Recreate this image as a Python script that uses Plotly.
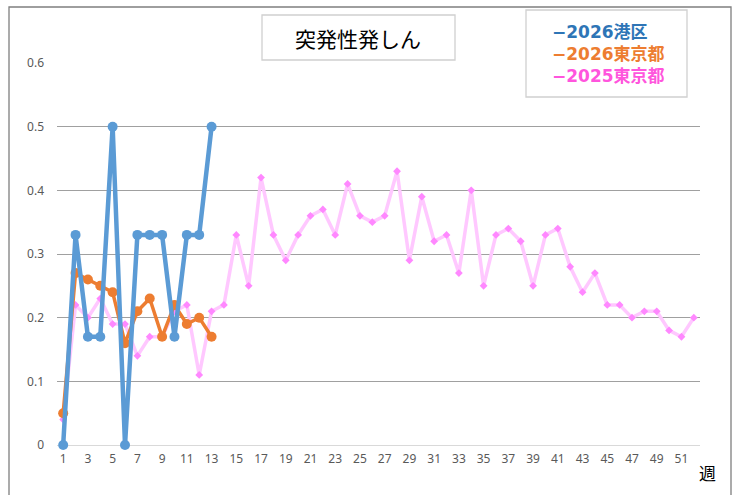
import plotly.graph_objects as go

weeks = list(range(1, 53))
minato_2026 = [0, 0.33, 0.17, 0.17, 0.5, 0, 0.33, 0.33, 0.33, 0.17, 0.33, 0.33, 0.5]
tokyo_2026 = [0.05, 0.27, 0.26, 0.25, 0.24, 0.16, 0.21, 0.23, 0.17, 0.22, 0.19, 0.20, 0.17]
tokyo_2025 = [0.04, 0.22, 0.20, 0.23, 0.19, 0.19, 0.14, 0.17, 0.17, 0.21,
              0.22, 0.11, 0.21, 0.22, 0.33, 0.25, 0.42, 0.33, 0.29, 0.33,
              0.36, 0.37, 0.33, 0.41, 0.36, 0.35, 0.36, 0.43, 0.29, 0.39,
              0.32, 0.33, 0.27, 0.40, 0.25, 0.33, 0.34, 0.32, 0.25, 0.33,
              0.34, 0.28, 0.24, 0.27, 0.22, 0.22, 0.20, 0.21, 0.21, 0.18,
              0.17, 0.20]
xticks = list(range(1, 52, 2))
title_text = "突発性発しん"
legend_names = ["−2026港区", "−2026東京都", "−2025東京都"]
legend_colors = ["#2e75b6", "#ed7d31", "#ff55dd"]

fig = go.Figure()
fig.add_trace(go.Scatter(x=weeks, y=tokyo_2025, mode="lines+markers",
                         line=dict(color="#ffc8ff", width=3.5),
                         marker=dict(symbol="diamond", size=6, color="#ff88ff"),
                         name=legend_names[2], showlegend=False))
fig.add_trace(go.Scatter(x=weeks[:len(tokyo_2026)], y=tokyo_2026, mode="lines+markers",
                         line=dict(color="#ed7d31", width=3.5),
                         marker=dict(symbol="circle", size=10, color="#ed7d31"),
                         name=legend_names[1], showlegend=False))
fig.add_trace(go.Scatter(x=weeks[:len(minato_2026)], y=minato_2026, mode="lines+markers",
                         line=dict(color="#5b9bd5", width=4.5),
                         marker=dict(symbol="circle", size=10, color="#5b9bd5"),
                         name=legend_names[0], showlegend=False))

W, H = 742, 495
L, R, T, B = 57, 700, 63, 445

def px(x):
    return (x - L) / (R - L)

def py(y):
    return (B - y) / (B - T)

shapes = [
    dict(type="rect", xref="paper", yref="paper", x0=px(9), x1=px(731), y0=py(520), y1=py(7),
         line=dict(color="#7f7f7f", width=1.3), fillcolor="rgba(0,0,0,0)", layer="below"),
    dict(type="rect", xref="paper", yref="paper", x0=px(262), x1=px(455), y0=py(60), y1=py(15),
         line=dict(color="#d0d0d0", width=1.3), fillcolor="white", layer="above"),
    dict(type="rect", xref="paper", yref="paper", x0=px(526), x1=px(687), y0=py(97), y1=py(10),
         line=dict(color="#d0d0d0", width=1.3), fillcolor="white", layer="above"),
]

legend_html = "<br>".join(
    "<span style='color:%s'>%s</span>" % (c, n) for n, c in zip(legend_names, legend_colors)
)

annotations = [
    dict(text=title_text, xref="paper", yref="paper", x=px(358), y=py(38),
         xanchor="center", yanchor="middle", showarrow=False,
         font=dict(family="Noto Sans CJK JP", size=21, color="#000000")),
    dict(text="週", xref="paper", yref="paper", x=px(707), y=py(472),
         xanchor="center", yanchor="middle", showarrow=False,
         font=dict(family="Noto Sans CJK JP", size=17, color="#000000")),
    dict(text=legend_html, xref="paper", yref="paper", x=px(550), y=py(54),
         xanchor="left", yanchor="middle", align="left", showarrow=False,
         font=dict(family="DejaVu Sans, Noto Sans CJK JP", size=17, color="#2e75b6",
                   weight="bold")),
]

fig.update_layout(
    width=W, height=H,
    margin=dict(l=L, r=W - R, t=T, b=H - B, pad=0, autoexpand=False),
    paper_bgcolor="white", plot_bgcolor="white",
    shapes=shapes, annotations=annotations, showlegend=False,
    xaxis=dict(range=[0.5, 52.5], tickvals=xticks, ticktext=[str(v) for v in xticks],
               showgrid=False, zeroline=False, showline=False, ticks="",
               tickfont=dict(family="Noto Sans", size=12, color="#595959"),
               ticklabelstandoff=5, fixedrange=True),
    yaxis=dict(range=[0, 0.6], tickvals=[0, 0.1, 0.2, 0.3, 0.4, 0.5, 0.6],
               ticktext=["0", "0.1", "0.2", "0.3", "0.4", "0.5", "0.6"],
               showgrid=True, gridcolor="#a0a0a0", gridwidth=1.2,
               zeroline=True, zerolinecolor="#d9d9d9", zerolinewidth=1.2,
               showline=False, ticks="",
               tickfont=dict(family="Noto Sans", size=12, color="#595959"),
               ticklabelstandoff=12, fixedrange=True),
)
fig.update_traces(cliponaxis=False)

fig.write_html("out.html", config={"displayModeBar": False},
               post_script="document.body.style.margin='0';document.body.style.overflow='hidden';")
